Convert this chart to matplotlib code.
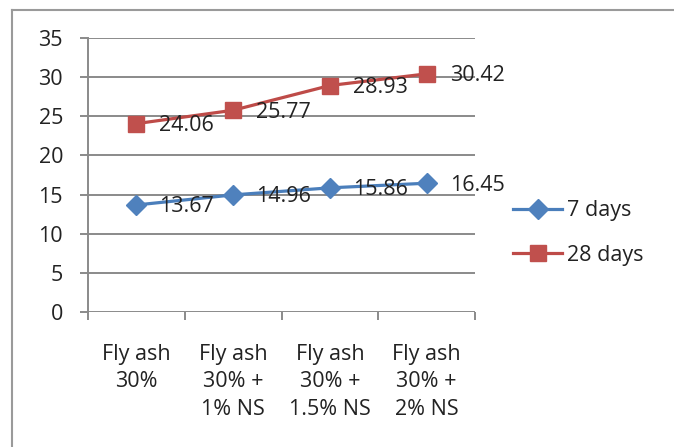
import matplotlib
matplotlib.use("Agg")
import matplotlib.pyplot as plt
from matplotlib.lines import Line2D

categories = ["Fly ash\n30%", "Fly ash\n30% +\n1% NS", "Fly ash\n30% +\n1.5% NS", "Fly ash\n30% +\n2% NS"]
days7 = [13.67, 14.96, 15.86, 16.45]
days28 = [24.06, 25.77, 28.93, 30.42]
yticks = [0, 5, 10, 15, 20, 25, 30, 35]

W, H = 674, 447
fig = plt.figure(figsize=(W / 100, H / 100), dpi=100)
plt.rcParams['font.family'] = ['Open Sans', 'DejaVu Sans']
FS = 15.5
TXT = "#222222"
GRID = "#8a8a8a"

# chart-area border (runs off the right and bottom edges)
fig.add_artist(Line2D([12 / W, 12 / W], [0, 1 - 10 / H], transform=fig.transFigure, color="#9a9a9a", lw=1.5))
fig.add_artist(Line2D([12 / W, 1], [1 - 10 / H, 1 - 10 / H], transform=fig.transFigure, color="#9a9a9a", lw=1.5))

ax = fig.add_axes([88 / W, 1 - 312 / H, (475 - 88) / W, (312 - 38) / H])
x = list(range(len(categories)))

ax.set_xlim(-0.5, len(categories) - 0.5)
ax.set_ylim(0, 35)
ax.set_yticks(yticks)
ax.set_yticklabels([str(v) for v in yticks])
for v in yticks:
    ax.axhline(v, color=GRID, lw=1.4, zorder=0)

ax.plot(x, days7, color="#4A7EBB", lw=2.3, marker="D", markersize=10.5,
        markerfacecolor="#4F81BD", markeredgecolor="#4F81BD", label="7 days", zorder=3)
ax.plot(x, days28, color="#BE4B48", lw=2.3, marker="s", markersize=12,
        markerfacecolor="#C0504D", markeredgecolor="#C0504D", label="28 days", zorder=3)

for xi, v in zip(x, days7):
    ax.annotate(f"{v:.2f}", (xi, v), xytext=(23, -2), textcoords="offset pixels",
                ha="left", va="center", fontsize=FS, color=TXT, zorder=4)
for xi, v in zip(x, days28):
    ax.annotate(f"{v:.2f}", (xi, v), xytext=(23, -2), textcoords="offset pixels",
                ha="left", va="center", fontsize=FS, color=TXT, zorder=4)

for s in ["top", "right", "bottom"]:
    ax.spines[s].set_visible(False)
ax.spines["left"].set_color(GRID)
ax.spines["left"].set_linewidth(1.4)

ax.set_xticks(x)
ax.set_xticklabels(categories, fontsize=FS, color=TXT, linespacing=1.4, va="top")
ax.set_xticks([i - 0.5 for i in range(len(categories) + 1)], minor=True)
ax.tick_params(axis="x", which="major", length=0, pad=23)
ax.tick_params(axis="x", which="minor", length=6, width=1.4, color=GRID, direction="out")
ax.tick_params(axis="y", length=6, width=1.4, color=GRID, direction="out", pad=12,
               labelsize=FS, labelcolor=TXT)

leg = ax.legend(loc="center left", bbox_to_anchor=(502 / W, 1 - 233 / H),
                bbox_transform=fig.transFigure, frameon=False, fontsize=FS,
                handlelength=2.3, handletextpad=0.2, labelspacing=1.1, borderpad=0)
for t in leg.get_texts():
    t.set_color(TXT)

fig.savefig("out.png", dpi=100)
